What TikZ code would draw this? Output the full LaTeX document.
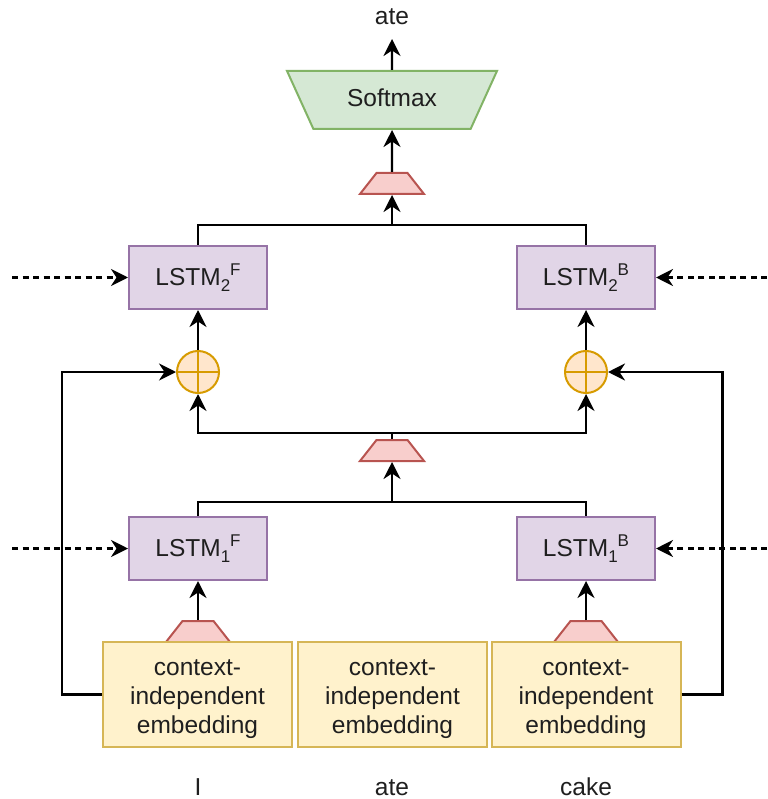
\documentclass[tikz,border=0pt]{standalone}
\usepackage{fontspec}
\setmainfont{Liberation Sans}
\usetikzlibrary{shapes.geometric,arrows.meta}
\definecolor{lstmfill}{HTML}{E1D5E7}
\definecolor{lstmline}{HTML}{9673A6}
\definecolor{embfill}{HTML}{FFF2CC}
\definecolor{embline}{HTML}{D6B656}
\definecolor{smfill}{HTML}{D5E8D4}
\definecolor{smline}{HTML}{82B366}
\definecolor{prjfill}{HTML}{F8CECC}
\definecolor{prjline}{HTML}{B85450}
\definecolor{addfill}{HTML}{FFE6CC}
\definecolor{addline}{HTML}{D79B00}
\newcommand{\lstmlabel}[2]{LSTM\smash{\fontsize{17}{17}\selectfont\raisebox{-6pt}{#1}\raisebox{10pt}{#2}}}
\newcommand{\embtext}{\rule{0pt}{25pt}context-\\independent\\embedding}
\begin{document}
\begin{tikzpicture}[x=1pt,y=-1pt,
  font=\fontsize{24.5}{28.7}\selectfont,
  lstm/.style={draw=lstmline, fill=lstmfill, line width=2pt, minimum width=138pt, minimum height=63pt, inner sep=0pt, text=black!88},
  emb/.style={draw=embline, fill=embfill, line width=2pt, minimum width=189pt, minimum height=105pt, align=center, inner sep=0pt, text=black!88},
  proj/.style={trapezium, draw=prjline, fill=prjfill, line width=2pt, trapezium stretches=true, minimum width=64pt, minimum height=21pt, trapezium left angle=62, trapezium right angle=62, inner sep=1pt},
  softmax/.style={trapezium, draw=smline, fill=smfill, line width=2pt, trapezium stretches=true, minimum width=210pt, minimum height=58pt, trapezium left angle=123, trapezium right angle=123, inner sep=1pt, text=black!88},
  addnode/.style={circle, draw=addline, fill=addfill, line width=2pt, minimum size=42pt, inner sep=0pt,
    path picture={\draw[addline, line width=2pt] (path picture bounding box.north) -- (path picture bounding box.south) (path picture bounding box.west) -- (path picture bounding box.east);}},
  word/.style={anchor=base, inner sep=0pt, text=black!88},
  conn/.style={line width=2.2pt},
  arr/.style={conn, -{Stealth[length=17pt,width=17pt,inset=5.5pt]}},
  recur/.style={arr, dash pattern=on 6pt off 4.5pt}
]
\useasboundingbox (0,0) rectangle (767,799);

% nodes
\node[word] (outword) at (392,25) {ate};
\coordinate (outtip) at (392,39);
\node[softmax] (sm) at (392,100) {\raisebox{4pt}{Softmax}};
\node[proj] (t2) at (392,183.5) {};
\node[lstm] (l2f) at (198,277.5) {\lstmlabel{2}{F}};
\node[lstm] (l2b) at (586,277.5) {\lstmlabel{2}{B}};
\node[addnode] (pf) at (198,372) {};
\node[addnode] (pb) at (586,372) {};
\node[proj] (t1) at (392,450.5) {};
\node[lstm] (l1f) at (198,548.5) {\lstmlabel{1}{F}};
\node[lstm] (l1b) at (586,548.5) {\lstmlabel{1}{B}};
\node[proj] (tf) at (198,631.5) {};
\node[proj] (tb) at (586,631.5) {};
\node[emb] (e1) at (197.5,694.5) {\embtext};
\node[emb] (e2) at (392.5,694.5) {\embtext};
\node[emb] (e3) at (586,694.5) {\embtext};
\node[word] (w1) at (198,795) {I};
\node[word] (w2) at (392,795) {ate};
\node[word] (w3) at (586,795) {cake};

% junction coordinates
\coordinate (j2) at (392,225);
\coordinate (j1) at (392,433);
\coordinate (j0) at (392,502);
\coordinate (dl2) at (12,277.5);
\coordinate (dr2) at (767,277.5);
\coordinate (dl1) at (12,548.5);
\coordinate (dr1) at (767,548.5);

% connectors
\draw[arr] (sm.north) -- (outtip);
\draw[arr] (t2.north) -- (sm.south);
\draw[conn] (l2f.north) |- (j2) -| (l2b.north);
\draw[arr] (j2) -- (t2.south);
\draw[arr] (pf.north) -- (l2f.south);
\draw[arr] (pb.north) -- (l2b.south);
\draw[conn] (t1.north) -- (j1);
\draw[arr] (j1) -| (pf.south);
\draw[arr] (j1) -| (pb.south);
\draw[conn] (l1f.north) |- (j0) -| (l1b.north);
\draw[arr] (j0) -- (t1.south);
\draw[arr] (tf.north) -- (l1f.south);
\draw[arr] (tb.north) -- (l1b.south);
\draw[arr] (e1.west) -- ++(-40,0) |- (pf.west);
\draw[arr] (e3.east) -- ++(41,0) |- (pb.east);
\draw[recur] (dl2) -- (l2f.west);
\draw[recur] (dr2) -- (l2b.east);
\draw[recur] (dl1) -- (l1f.west);
\draw[recur] (dr1) -- (l1b.east);
\end{tikzpicture}
\end{document}
